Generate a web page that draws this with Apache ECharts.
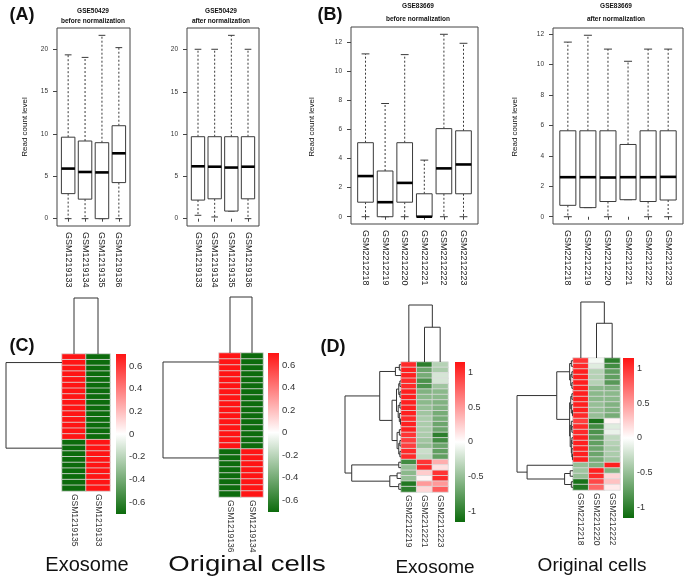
<!DOCTYPE html>
<html><head><meta charset="utf-8">
<script src="https://cdn.jsdelivr.net/npm/echarts/dist/echarts.min.js"></script>
<style>html,body{margin:0;padding:0;background:#fff}#c{width:684px;height:580px}</style>
</head><body><div id="c"></div><script>
// ---------------- DATA ----------------
const aSamples = ['GSM1219133','GSM1219134','GSM1219135','GSM1219136'];
const aBeforeMin = [0, 0, 0, 0];
const aBeforeQ1  = [2.95, 2.3, 0, 4.25];
const aBeforeMed = [5.9, 5.5, 5.45, 7.7];
const aBeforeQ3  = [9.6, 9.15, 8.95, 10.95];
const aBeforeMax = [19.3, 19.0, 21.6, 20.15];
const aAfterMin  = [0.4, 0.2, 0.9, 0];
const aAfterQ1   = [2.2, 2.35, 0.9, 2.35];
const aAfterMed  = [6.2, 6.15, 6.05, 6.15];
const aAfterQ3   = [9.7, 9.7, 9.7, 9.7];
const aAfterMax  = [20.05, 20.05, 21.7, 20.05];
const aTicks = [0, 5, 10, 15, 20];

const bSamples = ['GSM2212218','GSM2212219','GSM2212220','GSM2212221','GSM2212222','GSM2212223'];
const bBeforeMin = [0, 0, 0, 0, 0, 0];
const bBeforeQ1  = [1.0, 0, 1.0, 0, 1.58, 1.58];
const bBeforeMed = [2.8, 1.0, 2.33, 0, 3.33, 3.6];
const bBeforeQ3  = [5.1, 3.15, 5.1, 1.58, 6.07, 5.92];
const bBeforeMax = [11.22, 7.8, 11.17, 3.9, 12.57, 11.95];
const bAfterMin  = [0, 0.6, 0, 1.12, 0, 0];
const bAfterQ1   = [0.75, 0.6, 1.0, 1.12, 1.0, 1.1];
const bAfterMed  = [2.6, 2.6, 2.58, 2.6, 2.6, 2.62];
const bAfterQ3   = [5.65, 5.65, 5.65, 4.75, 5.65, 5.65];
const bAfterMax  = [11.48, 11.93, 11.02, 10.22, 11.02, 11.02];
const bTicks = [0, 2, 4, 6, 8, 10, 12];

// Panel C heatmaps (row-scaled values)
const cExoCols = ['GSM1219135','GSM1219133'];
const cExoV1 = [0.707,0.707,0.707,0.707,0.707,0.707,0.707,0.707,0.707,0.707,0.707,0.707,0.707,0.707,0.707,-0.707,-0.707,-0.707,-0.707,-0.707,-0.707,-0.707,-0.707,-0.707];
const cExoV2 = [-0.707,-0.707,-0.707,-0.707,-0.707,-0.707,-0.707,-0.707,-0.707,-0.707,-0.707,-0.707,-0.707,-0.707,-0.707,0.707,0.707,0.707,0.707,0.707,0.707,0.707,0.707,0.707];
const cExoUp = [0,1,2,3,4,5,6,7,8,9,10,11,12,13,14];
const cExoDown = [15,16,17,18,19,20,21,22,23];

const cOrgCols = ['GSM1219136','GSM1219134'];
const cOrgV1 = [0.707,0.707,0.707,0.707,0.707,0.707,0.707,0.707,0.707,0.707,0.707,0.707,0.707,0.707,0.707,0.707,-0.707,-0.707,-0.707,-0.707,-0.707,-0.707,-0.707,-0.707];
const cOrgV2 = [-0.707,-0.707,-0.707,-0.707,-0.707,-0.707,-0.707,-0.707,-0.707,-0.707,-0.707,-0.707,-0.707,-0.707,-0.707,-0.707,0.707,0.707,0.707,0.707,0.707,0.707,0.707,0.707];
const cOrgUp = [0,1,2,3,4,5,6,7,8,9,10,11,12,13,14,15];
const cOrgDown = [16,17,18,19,20,21,22,23];
const cLegendTicks = [-0.6,-0.4,-0.2,0,0.2,0.4,0.6];

// Panel D heatmaps
const dExoCols = ['GSM2212219','GSM2212221','GSM2212223'];
const dExoV1 = [1.05,1.1,1.1,1.05,1.05,1.1,1.1,1.1,1.1,1.1,1.05,1.1,1.1,1.0,0.95,0.95,1.05,1.05,-0.9,-0.5,-0.55,-0.5,-1.05,-1.0];
const dExoV2 = [-1.0,-0.7,-0.65,-0.85,-0.85,-0.6,-0.55,-0.55,-0.5,-0.45,-0.4,-0.4,-0.4,-0.4,-0.45,-0.5,-0.25,-0.3,1.0,1.05,0.25,0.05,0.5,0.2];
const dExoV3 = [-0.35,-0.4,-0.2,-0.2,-0.45,-0.55,-0.55,-0.6,-0.6,-0.65,-0.65,-0.7,-0.7,-1.0,-0.9,-0.7,-0.75,-0.75,0.4,0.15,1.0,1.05,0.5,0.8];
const dExoRowTree = [1.0,
  [0.38,
    [0.10, [0.03, 0, 1], 2],
    [0.16,
      [0.08, [0.04, [0.02, 3, 4], [0.02, 5, 6]], [0.05, [0.02, 7, 8], [0.03, 9, [0.01, 10, 11]]]],
      [0.07, [0.03, 12, 13], [0.04, [0.02, 14, 15], [0.02, 16, 17]]]]],
  [0.88, [0.04, 18, 19], [0.2, [0.07, 20, 21], [0.04, 22, 23]]]];
const dExoColTree = [1.0, 0, [0.61, 1, 2]];

const dOrgCols = ['GSM2212218','GSM2212220','GSM2212222'];
const dOrgV1 = [1.0,1.05,1.1,1.1,1.1,1.1,1.1,1.1,1.1,1.1,1.05,0.95,1.05,1.05,1.1,1.1,1.1,1.1,1.1,-0.5,-0.45,-0.5,-1.1,-1.05];
const dOrgV2 = [-0.05,-0.15,-0.35,-0.35,-0.35,-0.55,-0.55,-0.55,-0.5,-0.5,-0.5,-1.1,-0.9,-0.85,-0.8,-0.75,-0.7,-0.7,-0.65,-0.6,1.1,1.05,0.9,0.75];
const dOrgV3 = [-1.0,-0.9,-0.75,-0.75,-0.8,-0.6,-0.55,-0.55,-0.6,-0.6,-0.65,0.05,-0.15,-0.1,-0.3,-0.35,-0.4,-0.4,-0.45,1.1,-0.6,0.2,0.3,0.1];
const dOrgRowTree = [1.0,
  [0.29,
    [0.06, [0.03, 0, 1], [0.04, [0.02, 2, 3], [0.02, 4, 5]]],
    [0.06, [0.04, [0.02, 6, 7], [0.03, 8, [0.01, 9, 10]]],
           [0.05, [0.03, 11, [0.02, 12, 13]], [0.03, [0.02, 14, 15], [0.02, 16, [0.01, 17, 18]]]]]],
  [0.82, 19, [0.15, [0.05, 20, 21], [0.03, 22, 23]]]];
const dOrgColTree = [1.0, 0, [0.62, 1, 2]];
const dLegendTicks = [-1,-0.5,0,0.5,1];

// ---------------- BUILD ----------------
const FONT = '"Liberation Sans", Arial, sans-serif';
const GREEN = '#0c6b0c', RED = '#ff1414';
const grid=[], xAxis=[], yAxis=[], series=[], visualMap=[], graphic=[];

function addGrid(r, xa, ya, extra){
  const gi = grid.length;
  grid.push(Object.assign({left:r[0], top:r[1], width:r[2], height:r[3]}, extra||{}));
  xAxis.push(Object.assign({gridIndex:gi}, xa));
  yAxis.push(Object.assign({gridIndex:gi}, ya));
  return gi;
}
function seg(api, p1, p2, style){
  return {type:'line', shape:{x1:p1[0],y1:p1[1],x2:p2[0],y2:p2[1]}, style:Object.assign({stroke:'#3a3a3a', lineWidth:1}, style||{})};
}
function boxRender(params, api){
  const x=api.value(0), mn=api.value(1), q1=api.value(2), md=api.value(3), q3=api.value(4), mx=api.value(5);
  const c=(a,b)=>api.coord([a,b]);
  const hw=0.4, cw=0.2;
  const tl=c(x-hw,q3), br=c(x+hw,q1);
  return {type:'group', children:[
    seg(api, c(x,q3), c(x,mx), {lineDash:[2,2]}),
    seg(api, c(x,q1), c(x,mn), {lineDash:[2,2]}),
    seg(api, c(x-cw,mx), c(x+cw,mx)),
    seg(api, c(x-cw,mn), c(x+cw,mn)),
    {type:'rect', shape:{x:tl[0], y:tl[1], width:br[0]-tl[0], height:br[1]-tl[1]}, style:{fill:'#fff', stroke:'#3a3a3a', lineWidth:1}},
    seg(api, c(x-hw,md), c(x+hw,md), {stroke:'#000', lineWidth:2.6})
  ]};
}
function addBox(r, names, mn, q1, md, q3, mx, ticks){
  const n = names.length, xext = 0.04*n;
  const lo = Math.min(...mn), hi = Math.max(...mx), yext = 0.04*(hi-lo);
  const pos = names.map((_,i)=>i+1);
  const gi = addGrid(r,
    {type:'value', min:0.5-xext, max:n+0.5+xext, splitLine:{show:false}, axisLine:{show:false},
     axisTick:{show:true, customValues:pos, length:3, lineStyle:{color:'#444'}},
     axisLabel:{show:true, customValues:pos, formatter:v=>names[Math.round(v)-1], rotate:-90, fontSize:9, color:'#222', fontFamily:FONT, margin:6}},
    {type:'value', min:lo-yext, max:hi+yext, splitLine:{show:false}, axisLine:{show:false},
     axisTick:{show:true, customValues:ticks, length:4, lineStyle:{color:'#444'}},
     axisLabel:{show:true, customValues:ticks, fontSize:6.5, color:'#333', fontFamily:FONT, margin:9}},
    {show:true, borderColor:'#444', borderWidth:1});
  series.push({type:'custom', xAxisIndex:gi, yAxisIndex:gi, renderItem:boxRender, clip:false, silent:true,
    encode:{x:0, y:[1,2,3,4,5]}, data:names.map((_,i)=>[i+1, mn[i], q1[i], md[i], q3[i], mx[i]])});
}
function addHeat(r, cols, vals, lim){
  const gi = addGrid(r,
    {type:'category', data:cols, axisLine:{show:false}, axisTick:{show:false}, splitLine:{show:false},
     axisLabel:{rotate:-90, fontSize:8.5, color:'#333', fontFamily:FONT, margin:3}},
    {type:'category', data:vals[0].map((_,i)=>String(i)), inverse:true, show:false});
  const data=[]; vals.forEach((col,j)=>col.forEach((v,i)=>data.push([j,i,v])));
  const si = series.length;
  series.push({type:'heatmap', xAxisIndex:gi, yAxisIndex:gi, data, silent:true,
    itemStyle:{borderColor:'#dcdcdc', borderWidth:0.8}});
  visualMap.push({type:'continuous', show:false, min:-lim, max:lim, seriesIndex:si, dimension:2,
    inRange:{color:[GREEN,'#ffffff',RED]}});
}
function addBar(r, lim, ticks, fs){
  const gi = addGrid(r, {type:'value', min:0, max:1, show:false},
    {type:'value', min:-lim, max:lim, position:'right', axisLine:{show:false}, axisTick:{show:false}, splitLine:{show:false},
     axisLabel:{customValues:ticks, fontSize:fs, color:'#333', fontFamily:FONT, margin:3}});
  series.push({type:'custom', xAxisIndex:gi, yAxisIndex:gi, silent:true, clip:false, data:[[0,-lim,1,lim]], encode:{x:[0,2], y:[1,3]},
    renderItem:(p,api)=>{const a=api.coord([api.value(0),api.value(3)]), b=api.coord([api.value(2),api.value(1)]);
      return {type:'rect', shape:{x:a[0],y:a[1],width:b[0]-a[0],height:b[1]-a[1]},
        style:{fill:new echarts.graphic.LinearGradient(0,0,0,1,[{offset:0,color:RED},{offset:0.5,color:'#ffffff'},{offset:1,color:GREEN}])}};}});
}
function chain(idx){
  let node=[0, idx[idx.length-2], idx[idx.length-1]];
  for(let k=idx.length-3;k>=0;k--) node=[0, idx[k], node];
  return node;
}
function layoutTree(node, segs){
  if(typeof node==='number') return {p:node+0.5, h:0};
  const [h,a,b]=node;
  const A=layoutTree(a,segs), B=layoutTree(b,segs);
  if(h>0) segs.push([h,A.p,h,B.p]);
  if(h>A.h) segs.push([h,A.p,A.h,A.p]);
  if(h>B.h) segs.push([h,B.p,B.h,B.p]);
  return {p:(A.p+B.p)/2, h};
}
function addDendro(r, tree, n, orient){
  const segs=[]; layoutTree(tree, segs);
  let xa, ya, data;
  if(orient==='row'){
    xa={type:'value', min:0, max:1, inverse:true, show:false};
    ya={type:'value', min:0, max:n, inverse:true, show:false};
    data=segs;
  } else {
    xa={type:'value', min:0, max:n, show:false};
    ya={type:'value', min:0, max:1, show:false};
    data=segs.map(s=>[s[1],s[0],s[3],s[2]]);
  }
  const gi=addGrid(r, xa, ya);
  series.push({type:'custom', xAxisIndex:gi, yAxisIndex:gi, data, clip:false, silent:true, encode:{x:[0,2], y:[1,3]},
    renderItem:(p,api)=>{const a=api.coord([api.value(0),api.value(1)]), b=api.coord([api.value(2),api.value(3)]);
      return seg(api, a, b, {stroke:'#333', lineWidth:1});}});
}
function txt(x, y, text, font, opts){
  graphic.push(Object.assign({type:'text', x, y, silent:true,
    style:{text, font, fill:'#111', textAlign:'center', textVerticalAlign:'middle', align:'center', verticalAlign:'middle'}}, opts||{}));
}

// Panel A & B boxplots
addBox([57,28,73,198], aSamples, aBeforeMin, aBeforeQ1, aBeforeMed, aBeforeQ3, aBeforeMax, aTicks);
addBox([187,28,72,198], aSamples, aAfterMin, aAfterQ1, aAfterMed, aAfterQ3, aAfterMax, aTicks);
addBox([351,27,127,197], bSamples, bBeforeMin, bBeforeQ1, bBeforeMed, bBeforeQ3, bBeforeMax, bTicks);
addBox([553,28,130,196], bSamples, bAfterMin, bAfterQ1, bAfterMed, bAfterQ3, bAfterMax, bTicks);

// Panel C
addHeat([62,354,48,137], cExoCols, [cExoV1, cExoV2], 0.707);
addBar([116,354,10,160], 0.707, cLegendTicks, 9.5);
addDendro([6,354,56,137], [1, chain(cExoUp), chain(cExoDown)], cExoV1.length, 'row');
addDendro([62,298,48,56], [1, 0, 1], 2, 'col');

addHeat([219,353,44,144], cOrgCols, [cOrgV1, cOrgV2], 0.707);
addBar([268,353,11,159], 0.707, cLegendTicks, 9.5);
addDendro([163,353,56,144], [1, chain(cOrgUp), chain(cOrgDown)], cOrgV1.length, 'row');
addDendro([219,297,44,56], [1, 0, 1], 2, 'col');

// Panel D
addHeat([401,362,47,130], dExoCols, [dExoV1, dExoV2, dExoV3], 1.155);
addBar([455,362,10,160], 1.155, dLegendTicks, 9);
addDendro([345,362,56,130], dExoRowTree, dExoV1.length, 'row');
addDendro([401,305,47,57], dExoColTree, 3, 'col');

addHeat([573,358,47,132], dOrgCols, [dOrgV1, dOrgV2, dOrgV3], 1.155);
addBar([623,358,11,160], 1.155, dLegendTicks, 9);
addDendro([517,358,56,132], dOrgRowTree, dOrgV1.length, 'row');
addDendro([573,302,47,56], dOrgColTree, 3, 'col');

// Texts
const tf = 'bold 6.5px ' + FONT;
txt(93, 11, 'GSE50429', tf); txt(93, 21, 'before normalization', tf);
txt(221, 11, 'GSE50429', tf); txt(221, 21, 'after normalization', tf);
txt(418, 6, 'GSE83669', tf); txt(418, 19, 'before normalization', tf);
txt(616, 6, 'GSE83669', tf); txt(616, 19, 'after normalization', tf);
const yf = '8px ' + FONT;
txt(25, 127, 'Read count level', yf, {rotation:Math.PI/2});
txt(312, 127, 'Read count level', yf, {rotation:Math.PI/2});
txt(515, 127, 'Read count level', yf, {rotation:Math.PI/2});
const pf = 'bold 18px ' + FONT;
txt(22, 15, '(A)', pf); txt(330, 15, '(B)', pf);
txt(22, 346, '(C)', pf); txt(333, 347, '(D)', pf);
txt(87, 565, 'Exosome', '20px ' + FONT);
txt(247, 565, 'Original cells', '22px ' + FONT, {scaleX:1.25, originX:0, originY:0});
txt(435, 568, 'Exosome', '19px ' + FONT);
txt(592, 566, 'Original cells', '19px ' + FONT);

const chart = echarts.init(document.getElementById('c'));
chart.setOption({animation:false, backgroundColor:'#fff', grid, xAxis, yAxis, series, visualMap, graphic});
</script></body></html>
